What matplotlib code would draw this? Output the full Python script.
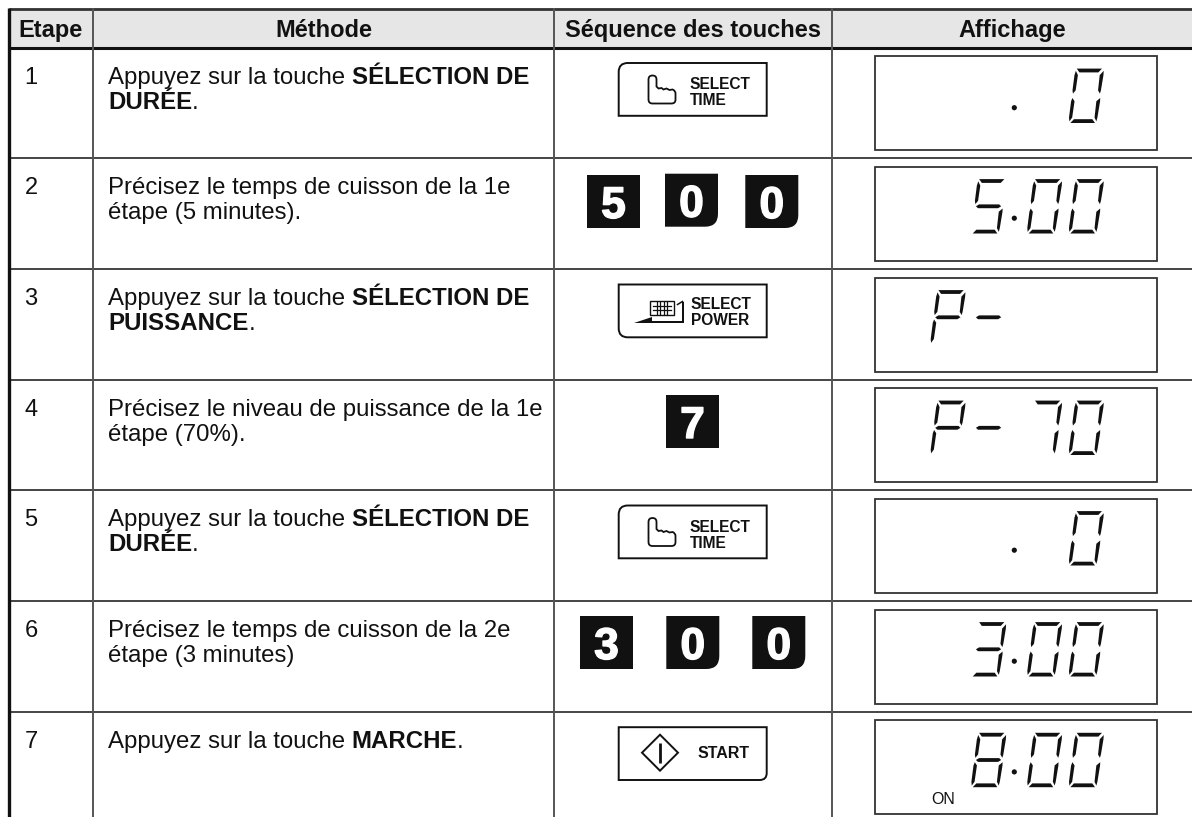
import matplotlib
matplotlib.use('Agg')
import matplotlib.pyplot as plt
import matplotlib.patheffects as pe
from matplotlib.path import Path
from matplotlib.patches import PathPatch, Rectangle, Polygon, Circle

plt.rcParams['font.family'] = ['Liberation Sans', 'DejaVu Sans']

# contenu du tableau
headers = ['Etape', 'Méthode', 'Séquence des touches', 'Affichage']
steps = ['1', '2', '3', '4', '5', '6', '7']
methods = [
    [[('Appuyez sur la touche', False), ('SÉLECTION DE', True)], [('DURÉE', True), ('.', False)]],
    [[('Précisez le temps de cuisson de la 1e', False)], [('étape (5 minutes).', False)]],
    [[('Appuyez sur la touche', False), ('SÉLECTION DE', True)], [('PUISSANCE', True), ('.', False)]],
    [[('Précisez le niveau de puissance de la 1e', False)], [('étape (70%).', False)]],
    [[('Appuyez sur la touche', False), ('SÉLECTION DE', True)], [('DURÉE', True), ('.', False)]],
    [[('Précisez le temps de cuisson de la 2e', False)], [('étape (3 minutes)', False)]],
    [[('Appuyez sur la touche', False), ('MARCHE', True), ('.', False)]],
]
keys = ['time', '500', 'power', '7', 'time', '300', 'start']
displays = [['', '', '', '0'], ['', '5', '0', '0'], ['P', '-', '', ''], ['P', '-', '7', '0'],
            ['', '', '', '0'], ['', '3', '0', '0'], ['', '8', '0', '0']]
display_dot = [True, True, False, False, True, True, True]

# mise en page (pixels)
col_x = [9, 93, 554, 831.5, 1192]
row_y = [47.5, 158, 269, 379.5, 490, 601, 711.7, 817]
key_x = {'500': [587, 665, 745.3], '7': [666], '300': [580, 666.3, 752.3]}

fig = plt.figure(figsize=(11.92, 8.17), dpi=100)
ax = fig.add_axes([0, 0, 1, 1])
ax.set_xlim(0, 1192)
ax.set_ylim(817, 0)
ax.axis('off')

segs = {
    'a': [(0.05, 1), (0.93, 1), (0.82, 0.93), (0.16, 0.93)],
    'b': [(1.0, 0.96), (1.01, 0.88), (0.99, 0.6), (0.97, 0.54), (0.89, 0.6), (0.88, 0.88)],
    'c': [(1.0, 0.46), (1.01, 0.4), (0.99, 0.1), (0.97, 0.03), (0.89, 0.1), (0.88, 0.4)],
    'd': [(0.07, 0), (0.93, 0), (0.82, 0.07), (0.18, 0.07)],
    'e': [(0.03, 0.46), (0.12, 0.4), (0.11, 0.1), (0.03, 0.03), (0.0, 0.1), (0.0, 0.4)],
    'f': [(0.03, 0.96), (0.12, 0.88), (0.11, 0.6), (0.03, 0.54), (0.0, 0.6), (0.0, 0.88)],
    'g': [(0.06, 0.5), (0.16, 0.535), (0.86, 0.535), (0.94, 0.5), (0.84, 0.465), (0.14, 0.465)],
}
digit_segs = {'0': 'abcdef', '3': 'abcdg', '5': 'acdfg', '7': 'abc', '8': 'abcdefg', 'P': 'abefg', '-': 'g'}


def seven_seg(ch, x0, y_bottom):
    w, h, slant = 28.7, 54.4, 7
    for s in digit_segs[ch]:
        pts = [(x0 + u * w + v * slant, y_bottom - v * h) for u, v in segs[s]]
        ax.add_patch(Polygon(pts, closed=True, fc='#111111', ec='none', zorder=3))


def corner_box(x0, y0, x1, y1, r, corner, **kw):
    # rectangle avec un seul coin arrondi
    v = []
    c = []
    corners = [('tl', x0, y0, 1, 1), ('tr', x1, y0, -1, 1), ('br', x1, y1, -1, -1), ('bl', x0, y1, 1, -1)]
    for name, x, y, sx, sy in corners:
        if name == corner:
            if name in ('tl', 'br'):
                a, b = (x, y + sy * r), (x + sx * r, y)
            else:
                a, b = (x + sx * r, y), (x, y + sy * r)
            v += [a, (x, y), b]
            c += [Path.LINETO, Path.CURVE3, Path.CURVE3]
        else:
            v.append((x, y))
            c.append(Path.LINETO)
    c[0] = Path.MOVETO
    v.append(v[0])
    c.append(Path.CLOSEPOLY)
    ax.add_patch(PathPatch(Path(v, c), **kw))


def hand_icon(ox, oy):
    v = [(0, 24), (0, 4), (0, 0), (4, 0), (8, 0), (8, 4), (8, 11), (10, 13), (13, 12.5), (15, 14), (18, 13), (21, 14.5),
         (24, 14), (27, 15), (27, 18), (27, 24), (27, 28), (23, 28), (4, 28), (0, 28), (0, 24)]
    c = [Path.MOVETO, Path.LINETO, Path.CURVE3, Path.CURVE3, Path.CURVE3, Path.CURVE3, Path.LINETO, Path.LINETO,
         Path.LINETO, Path.LINETO, Path.LINETO, Path.LINETO, Path.LINETO, Path.CURVE3, Path.CURVE3, Path.LINETO,
         Path.CURVE3, Path.CURVE3, Path.LINETO, Path.CURVE3, Path.CURVE3]
    v = [(ox + x, oy + y) for x, y in v]
    ax.add_patch(PathPatch(Path(v, c), fc='none', ec='#111111', lw=1.3, zorder=3))


def power_icon(ox, oy):
    # ox, oy = coin haut gauche de la grille
    ax.add_patch(Rectangle((ox, oy), 24, 14, fc='none', ec='#111111', lw=1.0, zorder=3))
    for dx in (7, 10.5, 14, 17.5):
        ax.plot([ox + dx, ox + dx], [oy + 1, oy + 13], color='#111111', lw=0.9, zorder=3)
    ax.plot([ox + 3, ox + 21], [oy + 5, oy + 5], color='#111111', lw=0.9, zorder=3)
    ax.plot([ox + 3, ox + 21], [oy + 9, oy + 9], color='#111111', lw=0.9, zorder=3)
    ax.add_patch(Polygon([(ox - 15.5, oy + 22), (ox + 34, oy + 22), (ox + 34, oy + 1), (ox + 32.2, oy + 1),
                          (ox + 32.2, oy + 20.2), (ox + 2, oy + 20.2), (ox + 2, oy + 16)],
                         closed=True, fc='#111111', ec='none', zorder=3))
    ax.plot([ox + 28, ox + 33], [oy + 4, oy + 1], color='#111111', lw=1.1, zorder=3)


# en-tete
ax.add_patch(Rectangle((col_x[0], 8), 1192 - col_x[0], row_y[0] - 8, fc='#e6e6e6', ec='none', zorder=0))
for i, h in enumerate(headers):
    ax.text((col_x[i] + col_x[i + 1]) / 2, 37, h, fontsize=17, fontweight='bold', ha='center', va='baseline', color='#111111')

# lignes
ax.plot([col_x[0], 1192], [8.5, 8.5], color='#333333', lw=2.0, zorder=2, solid_capstyle='butt')
ax.plot([col_x[0], 1192], [row_y[0], row_y[0]], color='#111111', lw=2.2, zorder=2, solid_capstyle='butt')
for y in row_y[1:-1]:
    ax.plot([col_x[0], 1192], [y, y], color='#444444', lw=1.4, zorder=2, solid_capstyle='butt')
ax.plot([col_x[0], col_x[0]], [7.5, 817], color='#111111', lw=2.4, zorder=2, solid_capstyle='butt')
for x in col_x[1:-1]:
    ax.plot([x, x], [8, 817], color='#555555', lw=1.4, zorder=2, solid_capstyle='butt')

renderer = fig.canvas.get_renderer()
for r, step in enumerate(steps):
    top = row_y[r]
    base = top + 36
    ax.text(31, base, step, fontsize=17, ha='center', va='baseline', color='#111111')

    # colonne methode
    for l, line in enumerate(methods[r]):
        x = 108
        for txt, bold in line:
            if txt == '.':
                x -= 6.4
            t = ax.text(x, base + l * 25.3, txt, fontsize=17.25, fontweight='bold' if bold else 'normal',
                        ha='left', va='baseline', color='#111111')
            x = ax.transData.inverted().transform(t.get_window_extent(renderer))[1][0] + 6.4

    # colonne touches
    k = keys[r]
    if k in key_x:
        kt = top + 15.5
        if k == '500':
            kt = top + 17
        if k == '300':
            kt = top + 15
        for j, ch in enumerate(k):
            x0 = key_x[k][j]
            y0 = kt - (1.3 if (k == '500' and j == 1) else 0)
            if ch == '0':
                corner_box(x0, y0, x0 + 53, y0 + 53, 13, 'br', fc='#111111', ec='none', zorder=3)
            else:
                ax.add_patch(Rectangle((x0, y0), 53, 53, fc='#111111', ec='none', zorder=3))
            ax.text(x0 + 26.5, y0 + 43, ch, fontsize=32, fontweight='bold', color='white', ha='center', va='baseline',
                    zorder=4, path_effects=[pe.withStroke(linewidth=1.0, foreground='white')])
    else:
        by = top + 15.5
        corner = {'time': 'tl', 'power': 'bl', 'start': 'br'}[k]
        r_c = {'time': 9, 'power': 9, 'start': 7}[k]
        corner_box(618.7, by, 766.7, by + 52.8, r_c, corner, fc='white', ec='#111111', lw=1.4, zorder=3)
        if k == 'time':
            hand_icon(648.5, by + 12.5)
            ax.text(690, by + 26, 'SELECT', fontsize=11.2, fontweight='bold', va='baseline', color='#111111', zorder=4)
            ax.text(690, by + 42, 'TIME', fontsize=11.2, fontweight='bold', va='baseline', color='#111111', zorder=4)
        elif k == 'power':
            power_icon(649.5, by + 16)
            ax.text(690.5, by + 24.5, 'SELECT', fontsize=11.2, fontweight='bold', va='baseline', color='#111111', zorder=4)
            ax.text(690.5, by + 40, 'POWER', fontsize=11.2, fontweight='bold', va='baseline', color='#111111', zorder=4)
        else:
            cx, cy = 660, by + 25.5
            ax.add_patch(Polygon([(cx - 18, cy), (cx, cy - 18), (cx + 18, cy), (cx, cy + 18)], closed=True,
                                 fc='white', ec='#111111', lw=1.4, zorder=4))
            ax.plot([cx, cx], [cy - 10, cy + 10], color='#111111', lw=2.0, zorder=5, solid_capstyle='butt')
            ax.text(697.5, by + 30.5, 'START', fontsize=11.5, fontweight='bold', va='baseline', color='#111111', zorder=4)

    # colonne affichage
    box_top = top + 8.5
    ax.add_patch(Rectangle((875, box_top), 281.7, 94, fc='white', ec='#333333', lw=1.3, zorder=2))
    for ch, dx in zip(displays[r], [-138.3, -97.6, -41.7, 0]):
        if ch:
            seven_seg(ch, 1068.3 + dx, box_top + 67)
    if display_dot[r]:
        ax.add_patch(Circle((1014.3, box_top + 51.7), 2.6, fc='#111111', ec='none', zorder=3))
    if r == 6:
        ax.text(942.7, box_top + 84, 'ON', fontsize=11.5, ha='center', va='baseline', color='#111111',
                family=['Liberation Sans Narrow', 'Liberation Sans'], zorder=4)

fig.savefig('out.png', dpi=100)
